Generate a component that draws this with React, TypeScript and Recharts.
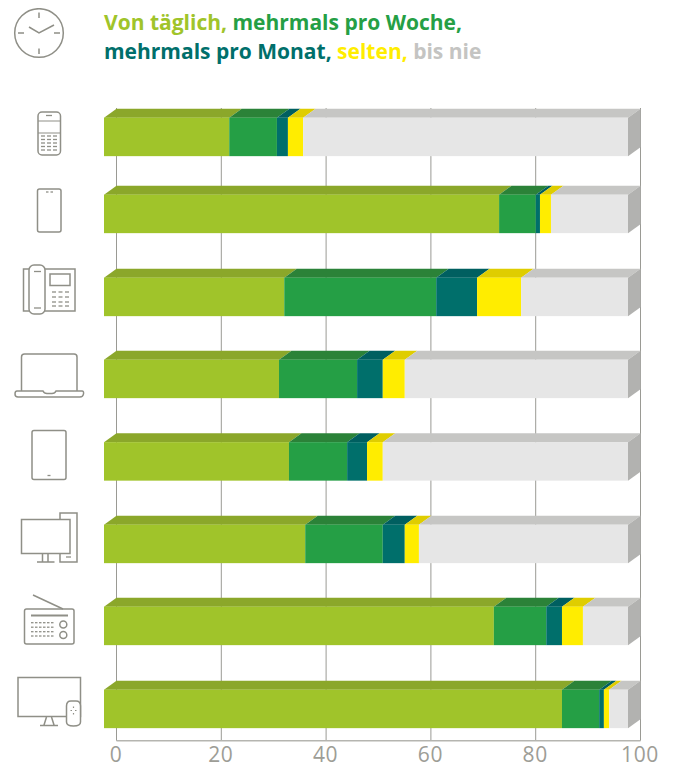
import React from "react";
import { BarChart, Bar, XAxis, YAxis, CartesianGrid } from "recharts";

const devices = ["Handy", "Smartphone", "Festnetztelefon", "Laptop", "Tablet", "Desktop", "Radio", "Fernseher"];
const daily = [23.9, 75.4, 34.4, 33.4, 35.3, 38.4, 74.4, 87.4];
const weekly = [9.1, 7.0, 29.0, 14.9, 11.1, 14.8, 10.0, 7.1];
const monthly = [2.1, 0.8, 7.8, 4.9, 3.8, 4.2, 3.0, 0.9];
const rarely = [2.9, 2.1, 8.4, 4.2, 3.0, 2.7, 4.0, 1.0];
const never = [62.0, 14.7, 20.4, 42.6, 46.8, 39.9, 8.6, 3.6];
const xTicks = [0, 20, 40, 60, 80, 100];

const data = devices.map((device, i) => ({
  device,
  daily: daily[i],
  weekly: weekly[i],
  monthly: monthly[i],
  rarely: rarely[i],
  never: never[i],
}));

const ROW_NUDGE = [0.9, -3.85, -2.6, -2.35, -1.6, -0.85, -0.6, 0.65];
const DX = 12.5;
const DY = 9;
const INK = "#8f8f87";

const LIME = "#a0c42a";
const GREEN = "#259f45";
const TEAL = "#006f6b";
const YELLOW = "#ffed00";
const LIGHT = "#e6e6e6";
const GREY_TEXT = "#c4c4c2";

const box3d = (front: string, top: string, withSide = false) => (p: any) => {
  const { x, y, width, index } = p;
  const height = p.height - 0.5;
  const yy = y + ROW_NUDGE[index];
  const x0 = x - DX;
  const x1 = x0 + width;
  return (
    <g>
      <polygon points={`${x0},${yy + DY} ${x1},${yy + DY} ${x1 + DX},${yy} ${x0 + DX},${yy}`} fill={top} />
      <rect x={x0} y={yy + DY} width={width} height={height} fill={front} />
      {withSide && (
        <polygon
          points={`${x1},${yy + DY} ${x1 + DX},${yy} ${x1 + DX},${yy + height} ${x1},${yy + height + DY}`}
          fill="#b2b2b0"
        />
      )}
    </g>
  );
};

const s = { fill: "none", stroke: INK, strokeWidth: 1.5 };
const dash = (x1: number, x2: number, y: number, k?: string | number) => (
  <line key={k} x1={x1} x2={x2} y1={y} y2={y} stroke={INK} strokeWidth={1.3} />
);

const keypadRows = [136, 139.5, 143, 146.5, 150];
const phoneCols = [41, 47, 53];
const deskRows = [292, 297, 302, 306];
const deskCols = [52, 58.5, 65];
const radioRows = [622.7, 627.2, 631.7, 636];
const radioCols = [31, 35, 39, 43, 47, 51];

const ICONS: Record<string, React.ReactNode> = {
  Handy: (
    <g>
      <rect x={38} y={112} width={22.5} height={43} rx={4} {...s} />
      <path d="M38 121H60.5M38 133H60.5" {...s} strokeWidth={1.1} />
      {dash(46, 52, 115.5)}
      {keypadRows.map((y) => phoneCols.map((x) => dash(x, x + 4, y, `${x}-${y}`)))}
    </g>
  ),
  Smartphone: (
    <g>
      <rect x={37.5} y={189} width={23.5} height={43} rx={2} {...s} />
      {dash(46, 48.5, 192)}
      {dash(50.5, 53, 192)}
    </g>
  ),
  Festnetztelefon: (
    <g>
      <rect x={23.5} y={269} width={51.5} height={42} {...s} />
      <rect x={29} y={265} width={16} height={49} rx={5} fill="#fff" stroke={INK} strokeWidth={1.5} />
      {dash(34, 41, 271.5)}
      {dash(34, 41, 308)}
      <rect x={50} y={274} width={20} height={11.5} {...s} />
      {deskRows.map((y) => deskCols.map((x) => dash(x, x + 4, y, `${x}-${y}`)))}
    </g>
  ),
  Laptop: (
    <g>
      <path d="M21.5 391V357Q21.5 354 24.5 354H74Q77 354 77 357V391" {...s} />
      <path d="M17 391H43Q44 393.5 47 393.5H52Q55 393.5 56 391H82Q84 391 83.5 394Q83 397 80 397H18Q15 397 15 394Q15 391 17 391Z" {...s} />
    </g>
  ),
  Tablet: (
    <g>
      <rect x={32} y={430.5} width={34} height={49} rx={2} {...s} />
      {dash(47.5, 50.5, 475.5)}
    </g>
  ),
  Desktop: (
    <g>
      <rect x={21.5} y={519.5} width={48.5} height={34} {...s} />
      <path d="M60 519.5V513H77V562H60V553.5" {...s} />
      {dash(66, 71, 557)}
      <path d="M42.5 553.5V562M48 553.5V562M37 562H54.5" {...s} />
    </g>
  ),
  Radio: (
    <g>
      <rect x={24.5} y={609} width={49.5} height={35} rx={2} {...s} />
      <path d="M33 595L63 609" {...s} />
      <line x1={31} x2={68} y1={615.5} y2={615.5} stroke={INK} strokeWidth={2} />
      {radioRows.map((y) => radioCols.map((x) => dash(x, x + 2.5, y, `${x}-${y}`)))}
      <circle cx={63.3} cy={624.5} r={3.5} {...s} />
      <circle cx={63.3} cy={635} r={3.5} {...s} />
    </g>
  ),
  Fernseher: (
    <g>
      <rect x={18} y={677.5} width={62.5} height={39} {...s} />
      <path d="M46.5 717L44 725M51.5 717L54 725M40 725.5H58" {...s} />
      <path d="M66.5 706Q66.5 701 71 701H76Q80.5 701 80.5 706V722Q80.5 726 73.5 726Q66.5 726 66.5 722Z" fill="#fff" stroke={INK} strokeWidth={1.5} />
      <path d="M73.5 706.5V708M73.5 713V714.5M70.5 710.5H72M75 710.5H76.5" {...s} strokeWidth={1.2} />
    </g>
  ),
};

const DeviceTick = (p: any) => <g transform="translate(-8,-8)">{ICONS[p.payload.value]}</g>;

const ValueTick = (p: any) => (
  <text
    x={p.x - 0.5}
    y={754}
    textAnchor="middle"
    fill="#9d9d96"
    fontSize={21}
    letterSpacing={0.6}
    fontFamily="'Open Sans', sans-serif"
  >
    {p.payload.value}
  </text>
);

const Clock = () => (
  <g transform="translate(-8,-8)">
    <circle cx={39} cy={33} r={24.3} {...s} />
    <path d="M39 12.5V18M39 48.5V54M18 33H24M54 33H60M29 27L39 33L54 25" {...s} />
  </g>
);

const GridLine = (p: any) => (
  <line x1={p.x1} x2={p.x2} y1={100} y2={p.y2} stroke="#9a9a94" strokeWidth={1} />
);

const titleFont = { fontFamily: "'Open Sans', sans-serif", fontWeight: 700, fontSize: 21 };

export default function App() {
  return (
    <BarChart
      width={670}
      height={759}
      data={data}
      layout="vertical"
      barSize={39}
      margin={{ top: 78.75, right: 37.5, bottom: 0, left: 0 }}
    >
      <CartesianGrid horizontal={false} vertical={GridLine as any} />
      <XAxis
        type="number"
        domain={[0, 100]}
        ticks={xTicks}
        height={26.25}
        axisLine={{ stroke: "#b5b5b0", strokeWidth: 1.5 }}
        tickLine={false}
        tick={ValueTick as any}
        interval={0}
      />
      <YAxis
        type="category"
        dataKey="device"
        width={108.5}
        axisLine={false}
        tickLine={false}
        tick={DeviceTick as any}
        interval={0}
      />
      <Bar dataKey="daily" stackId="a" isAnimationActive={false} shape={box3d(LIME, "#8ba72a") as any} />
      <Bar dataKey="weekly" stackId="a" isAnimationActive={false} shape={box3d(GREEN, "#2b8238") as any} />
      <Bar dataKey="monthly" stackId="a" isAnimationActive={false} shape={box3d(TEAL, "#005f60") as any} />
      <Bar dataKey="rarely" stackId="a" isAnimationActive={false} shape={box3d(YELLOW, "#dfcd00") as any} />
      <Bar dataKey="never" stackId="a" isAnimationActive={false} shape={box3d(LIGHT, "#c6c6c4", true) as any} />
      <Clock />
      <text x={96} y={22} {...titleFont}>
        <tspan fill={LIME}>Von täglich, </tspan>
        <tspan fill={GREEN}>mehrmals pro Woche,</tspan>
      </text>
      <text x={96} y={51} {...titleFont}>
        <tspan fill={TEAL}>mehrmals pro Monat, </tspan>
        <tspan fill={YELLOW}>selten, </tspan>
        <tspan fill={GREY_TEXT}>bis nie</tspan>
      </text>
    </BarChart>
  );
}
